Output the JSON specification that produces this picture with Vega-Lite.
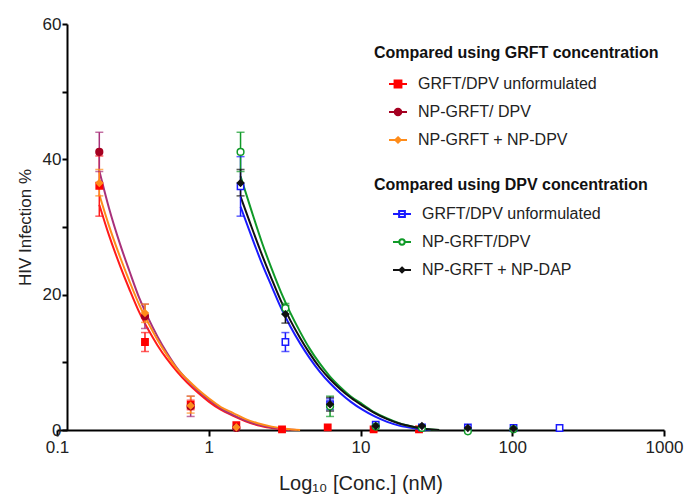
{
  "$schema": "https://vega.github.io/schema/vega-lite/v6.json",
  "width": 607,
  "height": 406,
  "autosize": {"type": "none"},
  "padding": {"left": 57, "top": 24, "right": 22, "bottom": 65},
  "config": {
    "view": {"stroke": null},
    "font": "Liberation Sans",
    "axis": {
      "grid": false,
      "domainColor": "#000000",
      "domainWidth": 2,
      "tickColor": "#000000",
      "tickWidth": 2,
      "labelFont": "Liberation Sans",
      "titleFont": "Liberation Sans",
      "labelColor": "#222222",
      "titleColor": "#222222",
      "titleFontWeight": "normal"
    },
    "legend": {
      "orient": "none",
      "titleFontSize": 16, "titleFontWeight": "bold", "titleColor": "#111111", "titleLimit": 400,
      "labelFontSize": 16, "labelColor": "#222222", "labelLimit": 300, "labelOffset": 10,
      "symbolSize": 324, "symbolStrokeWidth": 2, "symbolOpacity": 1, "rowPadding": 10
    }
  },
  "datasets": {
    "pts": [
      {"g": "A", "s": "GRFT/DPV unformulated", "x": 0.19, "y": 36.1, "lo": 31.6, "hi": 40.5},
      {"g": "A", "s": "GRFT/DPV unformulated", "x": 0.38, "y": 13.0, "lo": 11.6, "hi": 14.4},
      {"g": "A", "s": "GRFT/DPV unformulated", "x": 0.76, "y": 3.7, "lo": 3.0, "hi": 4.4},
      {"g": "A", "s": "GRFT/DPV unformulated", "x": 1.52, "y": 0.7, "lo": null, "hi": null},
      {"g": "A", "s": "GRFT/DPV unformulated", "x": 3.04, "y": 0.1, "lo": null, "hi": null},
      {"g": "A", "s": "GRFT/DPV unformulated", "x": 6.08, "y": 0.4, "lo": null, "hi": null},
      {"g": "A", "s": "GRFT/DPV unformulated", "x": 12.2, "y": 0.1, "lo": null, "hi": null},
      {"g": "A", "s": "GRFT/DPV unformulated", "x": 24.3, "y": 0.1, "lo": null, "hi": null},
      {"g": "A", "s": "NP-GRFT/ DPV", "x": 0.19, "y": 41.1, "lo": 38.2, "hi": 44.0},
      {"g": "A", "s": "NP-GRFT/ DPV", "x": 0.38, "y": 16.8, "lo": 15.0, "hi": 18.6},
      {"g": "A", "s": "NP-GRFT/ DPV", "x": 0.76, "y": 3.5, "lo": 2.0, "hi": 5.0},
      {"g": "A", "s": "NP-GRFT/ DPV", "x": 1.52, "y": 0.3, "lo": null, "hi": null},
      {"g": "A", "s": "NP-GRFT +  NP-DPV", "x": 0.19, "y": 36.5, "lo": 34.6, "hi": 38.5},
      {"g": "A", "s": "NP-GRFT +  NP-DPV", "x": 0.38, "y": 17.3, "lo": 15.9, "hi": 18.6},
      {"g": "A", "s": "NP-GRFT +  NP-DPV", "x": 0.76, "y": 3.6, "lo": 2.5, "hi": 5.0},
      {"g": "A", "s": "NP-GRFT +  NP-DPV", "x": 1.52, "y": 0.4, "lo": null, "hi": null},
      {"g": "B", "s": "GRFT/DPV unformulated", "x": 1.62, "y": 36.0, "lo": 31.6, "hi": 40.4},
      {"g": "B", "s": "GRFT/DPV unformulated", "x": 3.2, "y": 13.0, "lo": 11.6, "hi": 14.4},
      {"g": "B", "s": "GRFT/DPV unformulated", "x": 6.3, "y": 3.8, "lo": 3.0, "hi": 4.6},
      {"g": "B", "s": "GRFT/DPV unformulated", "x": 12.6, "y": 0.8, "lo": null, "hi": null},
      {"g": "B", "s": "GRFT/DPV unformulated", "x": 25.4, "y": 0.4, "lo": null, "hi": null},
      {"g": "B", "s": "GRFT/DPV unformulated", "x": 51, "y": 0.4, "lo": null, "hi": null},
      {"g": "B", "s": "GRFT/DPV unformulated", "x": 102, "y": 0.3, "lo": null, "hi": null},
      {"g": "B", "s": "GRFT/DPV unformulated", "x": 205, "y": 0.3, "lo": null, "hi": null},
      {"g": "B", "s": "NP-GRFT/DPV", "x": 1.62, "y": 41.1, "lo": 38.2, "hi": 44.0},
      {"g": "B", "s": "NP-GRFT/DPV", "x": 3.2, "y": 18.0, "lo": 17.2, "hi": 18.7},
      {"g": "B", "s": "NP-GRFT/DPV", "x": 6.3, "y": 3.5, "lo": 2.0, "hi": 5.0},
      {"g": "B", "s": "NP-GRFT/DPV", "x": 12.6, "y": 0.5, "lo": null, "hi": null},
      {"g": "B", "s": "NP-GRFT/DPV", "x": 25.4, "y": 0.3, "lo": null, "hi": null},
      {"g": "B", "s": "NP-GRFT/DPV", "x": 51, "y": -0.2, "lo": null, "hi": null},
      {"g": "B", "s": "NP-GRFT/DPV", "x": 102, "y": 0.1, "lo": null, "hi": null},
      {"g": "B", "s": "NP-GRFT + NP-DAP", "x": 1.62, "y": 36.5, "lo": 34.6, "hi": 38.5},
      {"g": "B", "s": "NP-GRFT + NP-DAP", "x": 3.2, "y": 17.1, "lo": 15.8, "hi": 18.4},
      {"g": "B", "s": "NP-GRFT + NP-DAP", "x": 6.3, "y": 3.8, "lo": 2.8, "hi": 4.8},
      {"g": "B", "s": "NP-GRFT + NP-DAP", "x": 12.6, "y": 0.6, "lo": null, "hi": null},
      {"g": "B", "s": "NP-GRFT + NP-DAP", "x": 25.4, "y": 0.6, "lo": null, "hi": null},
      {"g": "B", "s": "NP-GRFT + NP-DAP", "x": 51, "y": 0.3, "lo": null, "hi": null},
      {"g": "B", "s": "NP-GRFT + NP-DAP", "x": 102, "y": 0.2, "lo": null, "hi": null}
    ],
    "curves": [
      {"g": "A", "s": "GRFT/DPV unformulated", "x": 0.19, "y": 33.3},
      {"g": "A", "s": "GRFT/DPV unformulated", "x": 0.22, "y": 28.8},
      {"g": "A", "s": "GRFT/DPV unformulated", "x": 0.26, "y": 24.3},
      {"g": "A", "s": "GRFT/DPV unformulated", "x": 0.3, "y": 20.8},
      {"g": "A", "s": "GRFT/DPV unformulated", "x": 0.35, "y": 17.3},
      {"g": "A", "s": "GRFT/DPV unformulated", "x": 0.4, "y": 14.8},
      {"g": "A", "s": "GRFT/DPV unformulated", "x": 0.46, "y": 12.5},
      {"g": "A", "s": "GRFT/DPV unformulated", "x": 0.53, "y": 10.5},
      {"g": "A", "s": "GRFT/DPV unformulated", "x": 0.62, "y": 8.6},
      {"g": "A", "s": "GRFT/DPV unformulated", "x": 0.72, "y": 7.0},
      {"g": "A", "s": "GRFT/DPV unformulated", "x": 0.85, "y": 5.5},
      {"g": "A", "s": "GRFT/DPV unformulated", "x": 1.0, "y": 4.2},
      {"g": "A", "s": "GRFT/DPV unformulated", "x": 1.2, "y": 3.0},
      {"g": "A", "s": "GRFT/DPV unformulated", "x": 1.45, "y": 2.1},
      {"g": "A", "s": "GRFT/DPV unformulated", "x": 1.75, "y": 1.3},
      {"g": "A", "s": "GRFT/DPV unformulated", "x": 2.1, "y": 0.7},
      {"g": "A", "s": "GRFT/DPV unformulated", "x": 2.6, "y": 0.3},
      {"g": "A", "s": "GRFT/DPV unformulated", "x": 3.4, "y": 0},
      {"g": "A", "s": "NP-GRFT/ DPV", "x": 0.19, "y": 38.3},
      {"g": "A", "s": "NP-GRFT/ DPV", "x": 0.22, "y": 32.8},
      {"g": "A", "s": "NP-GRFT/ DPV", "x": 0.26, "y": 27.5},
      {"g": "A", "s": "NP-GRFT/ DPV", "x": 0.3, "y": 23.5},
      {"g": "A", "s": "NP-GRFT/ DPV", "x": 0.35, "y": 19.4},
      {"g": "A", "s": "NP-GRFT/ DPV", "x": 0.4, "y": 16.5},
      {"g": "A", "s": "NP-GRFT/ DPV", "x": 0.46, "y": 13.8},
      {"g": "A", "s": "NP-GRFT/ DPV", "x": 0.53, "y": 11.4},
      {"g": "A", "s": "NP-GRFT/ DPV", "x": 0.62, "y": 9.1},
      {"g": "A", "s": "NP-GRFT/ DPV", "x": 0.72, "y": 7.4},
      {"g": "A", "s": "NP-GRFT/ DPV", "x": 0.85, "y": 5.8},
      {"g": "A", "s": "NP-GRFT/ DPV", "x": 1.0, "y": 4.5},
      {"g": "A", "s": "NP-GRFT/ DPV", "x": 1.2, "y": 3.2},
      {"g": "A", "s": "NP-GRFT/ DPV", "x": 1.45, "y": 2.2},
      {"g": "A", "s": "NP-GRFT/ DPV", "x": 1.75, "y": 1.4},
      {"g": "A", "s": "NP-GRFT/ DPV", "x": 2.1, "y": 0.8},
      {"g": "A", "s": "NP-GRFT/ DPV", "x": 2.6, "y": 0.35},
      {"g": "A", "s": "NP-GRFT/ DPV", "x": 3.2, "y": 0.1},
      {"g": "A", "s": "NP-GRFT/ DPV", "x": 3.8, "y": 0},
      {"g": "A", "s": "NP-GRFT +  NP-DPV", "x": 0.19, "y": 34.8},
      {"g": "A", "s": "NP-GRFT +  NP-DPV", "x": 0.22, "y": 30.2},
      {"g": "A", "s": "NP-GRFT +  NP-DPV", "x": 0.26, "y": 25.6},
      {"g": "A", "s": "NP-GRFT +  NP-DPV", "x": 0.3, "y": 22.0},
      {"g": "A", "s": "NP-GRFT +  NP-DPV", "x": 0.35, "y": 18.4},
      {"g": "A", "s": "NP-GRFT +  NP-DPV", "x": 0.4, "y": 15.8},
      {"g": "A", "s": "NP-GRFT +  NP-DPV", "x": 0.46, "y": 13.3},
      {"g": "A", "s": "NP-GRFT +  NP-DPV", "x": 0.53, "y": 11.1},
      {"g": "A", "s": "NP-GRFT +  NP-DPV", "x": 0.62, "y": 9.0},
      {"g": "A", "s": "NP-GRFT +  NP-DPV", "x": 0.72, "y": 7.5},
      {"g": "A", "s": "NP-GRFT +  NP-DPV", "x": 0.85, "y": 6.0},
      {"g": "A", "s": "NP-GRFT +  NP-DPV", "x": 1.0, "y": 4.7},
      {"g": "A", "s": "NP-GRFT +  NP-DPV", "x": 1.2, "y": 3.4},
      {"g": "A", "s": "NP-GRFT +  NP-DPV", "x": 1.45, "y": 2.5},
      {"g": "A", "s": "NP-GRFT +  NP-DPV", "x": 1.75, "y": 1.6},
      {"g": "A", "s": "NP-GRFT +  NP-DPV", "x": 2.1, "y": 1.0},
      {"g": "A", "s": "NP-GRFT +  NP-DPV", "x": 2.6, "y": 0.5},
      {"g": "A", "s": "NP-GRFT +  NP-DPV", "x": 3.2, "y": 0.2},
      {"g": "A", "s": "NP-GRFT +  NP-DPV", "x": 4.0, "y": 0},
      {"g": "B", "s": "GRFT/DPV unformulated", "x": 1.62, "y": 33.0},
      {"g": "B", "s": "GRFT/DPV unformulated", "x": 1.9, "y": 28.8},
      {"g": "B", "s": "GRFT/DPV unformulated", "x": 2.25, "y": 24.5},
      {"g": "B", "s": "GRFT/DPV unformulated", "x": 2.6, "y": 21.2},
      {"g": "B", "s": "GRFT/DPV unformulated", "x": 3.0, "y": 18.0},
      {"g": "B", "s": "GRFT/DPV unformulated", "x": 3.45, "y": 15.3},
      {"g": "B", "s": "GRFT/DPV unformulated", "x": 4.0, "y": 12.8},
      {"g": "B", "s": "GRFT/DPV unformulated", "x": 4.6, "y": 10.7},
      {"g": "B", "s": "GRFT/DPV unformulated", "x": 5.4, "y": 8.6},
      {"g": "B", "s": "GRFT/DPV unformulated", "x": 6.3, "y": 6.9},
      {"g": "B", "s": "GRFT/DPV unformulated", "x": 7.4, "y": 5.4},
      {"g": "B", "s": "GRFT/DPV unformulated", "x": 8.6, "y": 4.2},
      {"g": "B", "s": "GRFT/DPV unformulated", "x": 10.3, "y": 3.0},
      {"g": "B", "s": "GRFT/DPV unformulated", "x": 12.4, "y": 2.0},
      {"g": "B", "s": "GRFT/DPV unformulated", "x": 15, "y": 1.2},
      {"g": "B", "s": "GRFT/DPV unformulated", "x": 18, "y": 0.65},
      {"g": "B", "s": "GRFT/DPV unformulated", "x": 22.5, "y": 0.25},
      {"g": "B", "s": "GRFT/DPV unformulated", "x": 29, "y": 0},
      {"g": "B", "s": "NP-GRFT/DPV", "x": 1.62, "y": 37.5},
      {"g": "B", "s": "NP-GRFT/DPV", "x": 1.9, "y": 32.6},
      {"g": "B", "s": "NP-GRFT/DPV", "x": 2.25, "y": 27.6},
      {"g": "B", "s": "NP-GRFT/DPV", "x": 2.6, "y": 23.8},
      {"g": "B", "s": "NP-GRFT/DPV", "x": 3.0, "y": 20.3},
      {"g": "B", "s": "NP-GRFT/DPV", "x": 3.45, "y": 17.3},
      {"g": "B", "s": "NP-GRFT/DPV", "x": 4.0, "y": 14.5},
      {"g": "B", "s": "NP-GRFT/DPV", "x": 4.6, "y": 12.1},
      {"g": "B", "s": "NP-GRFT/DPV", "x": 5.4, "y": 9.8},
      {"g": "B", "s": "NP-GRFT/DPV", "x": 6.3, "y": 7.9},
      {"g": "B", "s": "NP-GRFT/DPV", "x": 7.4, "y": 6.3},
      {"g": "B", "s": "NP-GRFT/DPV", "x": 8.6, "y": 5.0},
      {"g": "B", "s": "NP-GRFT/DPV", "x": 10.3, "y": 3.8},
      {"g": "B", "s": "NP-GRFT/DPV", "x": 12.4, "y": 2.6},
      {"g": "B", "s": "NP-GRFT/DPV", "x": 15, "y": 1.7},
      {"g": "B", "s": "NP-GRFT/DPV", "x": 18, "y": 1.0},
      {"g": "B", "s": "NP-GRFT/DPV", "x": 22.5, "y": 0.45},
      {"g": "B", "s": "NP-GRFT/DPV", "x": 27, "y": 0.15},
      {"g": "B", "s": "NP-GRFT/DPV", "x": 33, "y": 0},
      {"g": "B", "s": "NP-GRFT + NP-DAP", "x": 1.62, "y": 34.5},
      {"g": "B", "s": "NP-GRFT + NP-DAP", "x": 1.9, "y": 30.2},
      {"g": "B", "s": "NP-GRFT + NP-DAP", "x": 2.25, "y": 25.8},
      {"g": "B", "s": "NP-GRFT + NP-DAP", "x": 2.6, "y": 22.3},
      {"g": "B", "s": "NP-GRFT + NP-DAP", "x": 3.0, "y": 19.0},
      {"g": "B", "s": "NP-GRFT + NP-DAP", "x": 3.45, "y": 16.2},
      {"g": "B", "s": "NP-GRFT + NP-DAP", "x": 4.0, "y": 13.6},
      {"g": "B", "s": "NP-GRFT + NP-DAP", "x": 4.6, "y": 11.4},
      {"g": "B", "s": "NP-GRFT + NP-DAP", "x": 5.4, "y": 9.2},
      {"g": "B", "s": "NP-GRFT + NP-DAP", "x": 6.3, "y": 7.5},
      {"g": "B", "s": "NP-GRFT + NP-DAP", "x": 7.4, "y": 6.0},
      {"g": "B", "s": "NP-GRFT + NP-DAP", "x": 8.6, "y": 4.8},
      {"g": "B", "s": "NP-GRFT + NP-DAP", "x": 10.3, "y": 3.6},
      {"g": "B", "s": "NP-GRFT + NP-DAP", "x": 12.4, "y": 2.5},
      {"g": "B", "s": "NP-GRFT + NP-DAP", "x": 15, "y": 1.6},
      {"g": "B", "s": "NP-GRFT + NP-DAP", "x": 18, "y": 0.95},
      {"g": "B", "s": "NP-GRFT + NP-DAP", "x": 22.5, "y": 0.45},
      {"g": "B", "s": "NP-GRFT + NP-DAP", "x": 27, "y": 0.15},
      {"g": "B", "s": "NP-GRFT + NP-DAP", "x": 33, "y": 0}
    ]
  },
  "layer": [
    {
      "layer": [
        {
          "data": {"name": "curves"},
          "transform": [{"filter": "datum.g === 'A'"}],
          "mark": {"type": "line", "interpolate": "monotone", "strokeWidth": 2},
          "encoding": {
            "x": {"field": "x", "type": "quantitative", "scale": {"type": "log", "domain": [0.1, 1000]},
              "axis": {"title": "Log₁₀ [Conc.] (nM)", "values": [0.1, 1, 10, 100, 1000], "format": "~g", "tickSize": 6, "labelFontSize": 17, "labelPadding": 3, "titleFontSize": 20, "titlePadding": 18, "labelFlush": false}},
            "y": {"field": "y", "type": "quantitative", "scale": {"domain": [0, 60], "nice": false},
              "axis": {"title": "HIV Infection %", "values": [0, 10, 20, 30, 40, 50, 60], "labelExpr": "datum.value % 20 === 0 ? datum.label : ''", "offset": -10, "tickSize": 5, "labelPadding": 1, "labelFontSize": 17, "titleFontSize": 17, "titlePadding": 8}},
            "color": {"field": "s", "type": "nominal", "legend": null,
              "scale": {"domain": ["NP-GRFT +  NP-DPV", "NP-GRFT/ DPV", "GRFT/DPV unformulated"], "range": ["#ff8c1a", "#a8307a", "#ff1a1a"]}}
          }
        },
        {
          "data": {"name": "pts"},
          "transform": [{"filter": "datum.g === 'A' && datum.lo != null"}],
          "mark": {"type": "rule", "strokeWidth": 1.5},
          "encoding": {
            "x": {"field": "x", "type": "quantitative"},
            "y": {"field": "lo", "type": "quantitative"},
            "y2": {"field": "hi"},
            "color": {"field": "s", "type": "nominal", "legend": null}
          }
        },
        {
          "data": {"name": "pts"},
          "transform": [{"filter": "datum.g === 'A' && datum.lo != null"}],
          "mark": {"type": "tick", "orient": "horizontal", "size": 8, "thickness": 1.5},
          "encoding": {
            "x": {"field": "x", "type": "quantitative"},
            "y": {"field": "lo", "type": "quantitative"},
            "color": {"field": "s", "type": "nominal", "legend": null}
          }
        },
        {
          "data": {"name": "pts"},
          "transform": [{"filter": "datum.g === 'A' && datum.lo != null"}],
          "mark": {"type": "tick", "orient": "horizontal", "size": 8, "thickness": 1.5},
          "encoding": {
            "x": {"field": "x", "type": "quantitative"},
            "y": {"field": "hi", "type": "quantitative"},
            "color": {"field": "s", "type": "nominal", "legend": null}
          }
        },
        {
          "data": {"name": "pts"},
          "transform": [{"filter": "datum.g === 'A' && datum.s === 'GRFT/DPV unformulated'"}],
          "mark": {"type": "point", "shape": "square", "size": 40, "strokeWidth": 1.5, "opacity": 1},
          "encoding": {
            "x": {"field": "x", "type": "quantitative"},
            "y": {"field": "y", "type": "quantitative"},
            "stroke": {"field": "s", "type": "nominal"},
            "fill": {"field": "s", "type": "nominal"}
          }
        },
        {
          "data": {"name": "pts"},
          "transform": [{"filter": "datum.g === 'A' && datum.s === 'NP-GRFT/ DPV'"}],
          "mark": {"type": "point", "shape": "circle", "size": 45, "strokeWidth": 1.5, "opacity": 1},
          "encoding": {
            "x": {"field": "x", "type": "quantitative"},
            "y": {"field": "y", "type": "quantitative"},
            "stroke": {"field": "s", "type": "nominal"},
            "fill": {"field": "s", "type": "nominal"}
          }
        },
        {
          "data": {"name": "pts"},
          "transform": [{"filter": "datum.g === 'A' && datum.s === 'NP-GRFT +  NP-DPV'"}],
          "mark": {"type": "point", "shape": "diamond", "size": 40, "strokeWidth": 1.5, "opacity": 1},
          "encoding": {
            "x": {"field": "x", "type": "quantitative"},
            "y": {"field": "y", "type": "quantitative"},
            "stroke": {"field": "s", "type": "nominal"},
            "fill": {"field": "s", "type": "nominal"}
          }
        },
        {
          "data": {"name": "pts"},
          "transform": [{"filter": "datum.g === 'A' && datum.x < 0"}],
          "mark": {"type": "point", "size": 324, "opacity": 1},
          "encoding": {
            "x": {"field": "x", "type": "quantitative"},
            "y": {"field": "y", "type": "quantitative"},
            "fill": {"field": "s", "type": "nominal",
              "scale": {"domain": ["GRFT/DPV unformulated", "NP-GRFT/ DPV", "NP-GRFT +  NP-DPV"], "range": ["#ff0000", "#a50021", "#ff8c1a"]},
              "legend": {"title": "Compared using GRFT concentration", "legendX": 317, "legendY": 21, "titlePadding": 13, "symbolOffset": 14}},
            "stroke": {"field": "s", "type": "nominal",
              "scale": {"domain": ["GRFT/DPV unformulated", "NP-GRFT/ DPV", "NP-GRFT +  NP-DPV"], "range": ["#ff0000", "#a50021", "#ff8c1a"]},
              "legend": {"title": "Compared using GRFT concentration", "legendX": 317, "legendY": 21, "titlePadding": 13, "symbolOffset": 14}},
            "shape": {"field": "s", "type": "nominal",
              "scale": {"domain": ["GRFT/DPV unformulated", "NP-GRFT/ DPV", "NP-GRFT +  NP-DPV"], "range": ["M-1,0H1M-0.38,-0.38H0.38V0.38H-0.38Z", "M-1,0H1M-0.36,0A0.36,0.36 0 1,0 0.36,0A0.36,0.36 0 1,0 -0.36,0Z", "M-1,0H1M0,-0.3L0.3,0L0,0.3L-0.3,0Z"]},
              "legend": {"title": "Compared using GRFT concentration", "legendX": 317, "legendY": 21, "titlePadding": 13, "symbolOffset": 14}}
          }
        }
      ]
    },
    {
      "layer": [
        {
          "data": {"name": "curves"},
          "transform": [{"filter": "datum.g === 'B'"}],
          "mark": {"type": "line", "interpolate": "monotone", "strokeWidth": 2},
          "encoding": {
            "x": {"field": "x", "type": "quantitative"},
            "y": {"field": "y", "type": "quantitative"},
            "color": {"field": "s", "type": "nominal", "legend": null,
              "scale": {"domain": ["NP-GRFT + NP-DAP", "NP-GRFT/DPV", "GRFT/DPV unformulated"], "range": ["#111111", "#109a28", "#1a1aff"]}}
          }
        },
        {
          "data": {"name": "pts"},
          "transform": [{"filter": "datum.g === 'B' && datum.lo != null"}],
          "mark": {"type": "rule", "strokeWidth": 1.5},
          "encoding": {
            "x": {"field": "x", "type": "quantitative"},
            "y": {"field": "lo", "type": "quantitative"},
            "y2": {"field": "hi"},
            "color": {"field": "s", "type": "nominal", "legend": null}
          }
        },
        {
          "data": {"name": "pts"},
          "transform": [{"filter": "datum.g === 'B' && datum.lo != null"}],
          "mark": {"type": "tick", "orient": "horizontal", "size": 8, "thickness": 1.5},
          "encoding": {
            "x": {"field": "x", "type": "quantitative"},
            "y": {"field": "lo", "type": "quantitative"},
            "color": {"field": "s", "type": "nominal", "legend": null}
          }
        },
        {
          "data": {"name": "pts"},
          "transform": [{"filter": "datum.g === 'B' && datum.lo != null"}],
          "mark": {"type": "tick", "orient": "horizontal", "size": 8, "thickness": 1.5},
          "encoding": {
            "x": {"field": "x", "type": "quantitative"},
            "y": {"field": "hi", "type": "quantitative"},
            "color": {"field": "s", "type": "nominal", "legend": null}
          }
        },
        {
          "data": {"name": "pts"},
          "transform": [{"filter": "datum.g === 'B' && datum.s === 'GRFT/DPV unformulated'"}],
          "mark": {"type": "point", "shape": "square", "size": 40, "strokeWidth": 1.5, "opacity": 1},
          "encoding": {
            "x": {"field": "x", "type": "quantitative"},
            "y": {"field": "y", "type": "quantitative"},
            "stroke": {"field": "s", "type": "nominal"},
            "fill": {"field": "s", "type": "nominal"}
          }
        },
        {
          "data": {"name": "pts"},
          "transform": [{"filter": "datum.g === 'B' && datum.s === 'NP-GRFT/DPV'"}],
          "mark": {"type": "point", "shape": "circle", "size": 45, "strokeWidth": 1.5, "opacity": 1},
          "encoding": {
            "x": {"field": "x", "type": "quantitative"},
            "y": {"field": "y", "type": "quantitative"},
            "stroke": {"field": "s", "type": "nominal"},
            "fill": {"field": "s", "type": "nominal"}
          }
        },
        {
          "data": {"name": "pts"},
          "transform": [{"filter": "datum.g === 'B' && datum.s === 'NP-GRFT + NP-DAP'"}],
          "mark": {"type": "point", "shape": "diamond", "size": 40, "strokeWidth": 1.5, "opacity": 1},
          "encoding": {
            "x": {"field": "x", "type": "quantitative"},
            "y": {"field": "y", "type": "quantitative"},
            "stroke": {"field": "s", "type": "nominal"},
            "fill": {"field": "s", "type": "nominal"}
          }
        },
        {
          "data": {"name": "pts"},
          "transform": [{"filter": "datum.g === 'B' && datum.x < 0"}],
          "mark": {"type": "point", "size": 324, "opacity": 1},
          "encoding": {
            "x": {"field": "x", "type": "quantitative"},
            "y": {"field": "y", "type": "quantitative"},
            "fill": {"field": "s", "type": "nominal",
              "scale": {"domain": ["GRFT/DPV unformulated", "NP-GRFT/DPV", "NP-GRFT + NP-DAP"], "range": ["#ffffff", "#ffffff", "#111111"]},
              "legend": {"title": "Compared using DPV concentration", "legendX": 317, "legendY": 153, "titlePadding": 11, "symbolOffset": 18}},
            "stroke": {"field": "s", "type": "nominal",
              "scale": {"domain": ["GRFT/DPV unformulated", "NP-GRFT/DPV", "NP-GRFT + NP-DAP"], "range": ["#1a1aff", "#109a28", "#111111"]},
              "legend": {"title": "Compared using DPV concentration", "legendX": 317, "legendY": 153, "titlePadding": 11, "symbolOffset": 18}},
            "shape": {"field": "s", "type": "nominal",
              "scale": {"domain": ["GRFT/DPV unformulated", "NP-GRFT/DPV", "NP-GRFT + NP-DAP"], "range": ["M-1,0H1M-0.32,-0.32H0.32V0.32H-0.32Z", "M-1,0H-0.3M0.3,0H1M-0.3,0A0.3,0.3 0 1,0 0.3,0A0.3,0.3 0 1,0 -0.3,0Z", "M-1,0H1M0,-0.27L0.27,0L0,0.27L-0.27,0Z"]},
              "legend": {"title": "Compared using DPV concentration", "legendX": 317, "legendY": 153, "titlePadding": 11, "symbolOffset": 18}}
          }
        }
      ]
    }
  ],
  "resolve": {
    "scale": {"color": "independent", "fill": "independent", "shape": "independent", "stroke": "independent"},
    "legend": {"fill": "independent", "stroke": "independent", "shape": "independent"}
  }
}
